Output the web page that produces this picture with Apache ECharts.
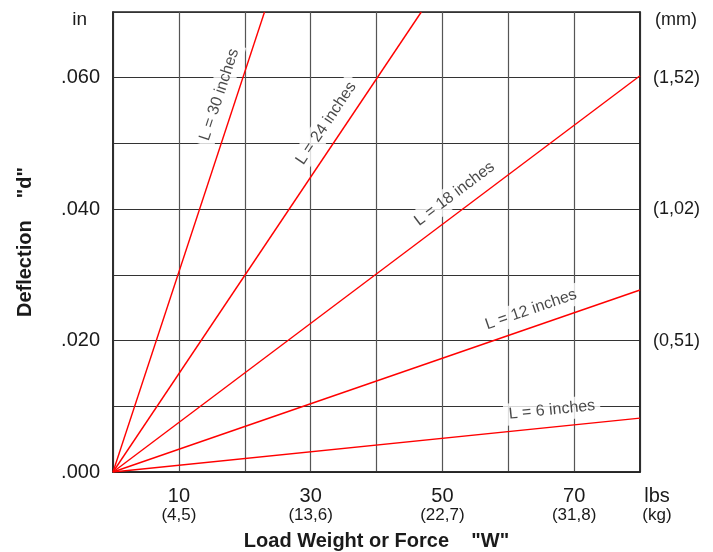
<!DOCTYPE html>
<html><head><meta charset="utf-8">
<script src="https://cdn.jsdelivr.net/npm/echarts@6/dist/echarts.min.js"></script>
<style>html,body{margin:0;padding:0;background:#fff}#c{width:713px;height:552px}</style>
</head><body><div id="c"></div>
<script>
// ---- data ----
const lineNames = ['L = 30 inches','L = 24 inches','L = 18 inches','L = 12 inches','L = 6 inches'];
const lineEndLbs = [23.0, 46.8, 80, 80, 80];
const lineEndDefl = [0.070, 0.070, 0.0603, 0.0277, 0.0082];
const labelAtLbs = [18.6, 34.5, 53.4, 64.3, 66.9];
const xTickValues = [10, 30, 50, 70, 80];
const xTickLbs = ['10', '30', '50', '70', 'lbs'];
const xTickKg = ['(4,5)', '(13,6)', '(22,7)', '(31,8)', '(kg)'];
const yTickValues = [0, 0.02, 0.04, 0.06];
const yTickIn = ['.000', '.020', '.040', '.060'];
const yTickMm = ['', '(0,51)', '(1,02)', '(1,52)'];

const FONT = '"Liberation Sans", Arial, Helvetica, sans-serif';
const TXT = '#1a1a1a';
const chart = echarts.init(document.getElementById('c'), null, {renderer: 'canvas'});

function yIdx(v) {
  const k = Math.round(v * 1000);
  return yTickValues.findIndex(t => Math.round(t * 1000) === k);
}

const lineSeries = lineNames.map((n, i) => ({
  name: n, type: 'line', silent: true, showSymbol: false, symbol: 'none',
  data: [[0, 0], [lineEndLbs[i], lineEndDefl[i]]],
  lineStyle: {color: '#ff0000', width: 1.4}, z: 5
}));

const option = {
  animation: false,
  grid: {left: 113, right: 73, top: 12, bottom: 80, outerBoundsMode: 'none', containLabel: false,
    show: true, borderColor: '#222', borderWidth: 1.5, backgroundColor: 'transparent'},
  xAxis: {
    type: 'value', min: 0, max: 80, interval: 10,
    name: 'Load Weight or Force    "W"', nameLocation: 'middle', nameGap: 59,
    nameTextStyle: {fontFamily: FONT, fontWeight: 'bold', fontSize: 20, color: TXT},
    axisLine: {show: true, lineStyle: {color: '#222', width: 1.5}},
    axisTick: {show: false},
    splitLine: {show: true, lineStyle: {color: '#555', width: 1.2}},
    axisLabel: {
      showMinLabel: true, showMaxLabel: true, margin: 14, fontFamily: FONT, color: TXT,
      formatter: v => {
        const i = xTickValues.indexOf(Math.round(v));
        if (i < 0) return '';
        return i === xTickValues.length - 1
          ? `{u|${xTickLbs[i]}}\n{uk|${xTickKg[i]}}`
          : `{n|${xTickLbs[i]}}\n{k|${xTickKg[i]}}`;
      },
      rich: {
        n: {fontFamily: FONT, fontSize: 20, lineHeight: 21, color: TXT},
        k: {fontFamily: FONT, fontSize: 17, lineHeight: 17, color: TXT},
        u: {fontFamily: FONT, fontSize: 20, lineHeight: 21, color: TXT, padding: [0, 0, 0, 34]},
        uk: {fontFamily: FONT, fontSize: 17, lineHeight: 17, color: TXT, padding: [0, 0, 0, 34]}
      }
    }
  },
  yAxis: [{
    type: 'value', min: 0, max: 0.07, interval: 0.01, position: 'left',
    name: 'in', nameLocation: 'end', nameGap: -8,
    nameTextStyle: {fontFamily: FONT, fontSize: 19, color: TXT, align: 'right', verticalAlign: 'middle', padding: [0, 26, 0, 0]},
    axisLine: {show: true, lineStyle: {color: '#222', width: 1.5}},
    axisTick: {show: false},
    splitLine: {show: true, lineStyle: {color: '#333', width: 1}},
    axisLabel: {
      margin: 13, fontFamily: FONT, fontSize: 20, color: TXT, showMaxLabel: true,
      formatter: v => { const i = yIdx(v); return i < 0 ? '' : yTickIn[i]; }
    }
  }, {
    type: 'value', min: 0, max: 0.07, interval: 0.01, position: 'right',
    name: '(mm)', nameLocation: 'end', nameGap: -8,
    nameTextStyle: {fontFamily: FONT, fontSize: 18, color: TXT, align: 'left', verticalAlign: 'middle', padding: [0, 0, 0, 15]},
    axisLine: {show: true, lineStyle: {color: '#222', width: 1.5}},
    axisTick: {show: false},
    splitLine: {show: false},
    axisLabel: {
      margin: 13, fontFamily: FONT, fontSize: 18, color: TXT,
      formatter: v => { const i = yIdx(v); return i < 0 ? '' : yTickMm[i]; }
    }
  }, {
    type: 'value', min: 0, max: 0.07, position: 'left', offset: 0,
    name: 'Deflection    "d"', nameLocation: 'middle', nameGap: 78,
    nameTextStyle: {fontFamily: FONT, fontWeight: 'bold', fontSize: 20, color: TXT},
    axisLine: {show: false}, axisTick: {show: false}, axisLabel: {show: false}, splitLine: {show: false}
  }],
  series: lineSeries
};
chart.setOption(option);

// Labels placed along each line, offset perpendicular in pixel space
const OFFSET = 17;
const labelData = lineNames.map((n, i) => {
  const slope = lineEndDefl[i] / lineEndLbs[i];
  const p0 = chart.convertToPixel({seriesIndex: i}, [0, 0]);
  const p1 = chart.convertToPixel({seriesIndex: i}, [lineEndLbs[i], lineEndDefl[i]]);
  const a = Math.atan2(p0[1] - p1[1], p1[0] - p0[0]);
  const foot = chart.convertToPixel({seriesIndex: i}, [labelAtLbs[i], labelAtLbs[i] * slope]);
  const c = [foot[0] - OFFSET * Math.sin(a), foot[1] - OFFSET * Math.cos(a)];
  const d = chart.convertFromPixel({seriesIndex: i}, c);
  return {
    value: d,
    label: {rotate: a * 180 / Math.PI, formatter: n}
  };
});

chart.setOption({
  series: lineSeries.concat([{
    type: 'scatter', silent: true, symbolSize: 0, z: 4,
    itemStyle: {color: 'transparent'},
    data: labelData,
    label: {show: true, position: 'inside', fontFamily: FONT, fontSize: 16, color: TXT,
      backgroundColor: '#fff', padding: [3, 5]}
  }])
});
</script>
</body></html>
